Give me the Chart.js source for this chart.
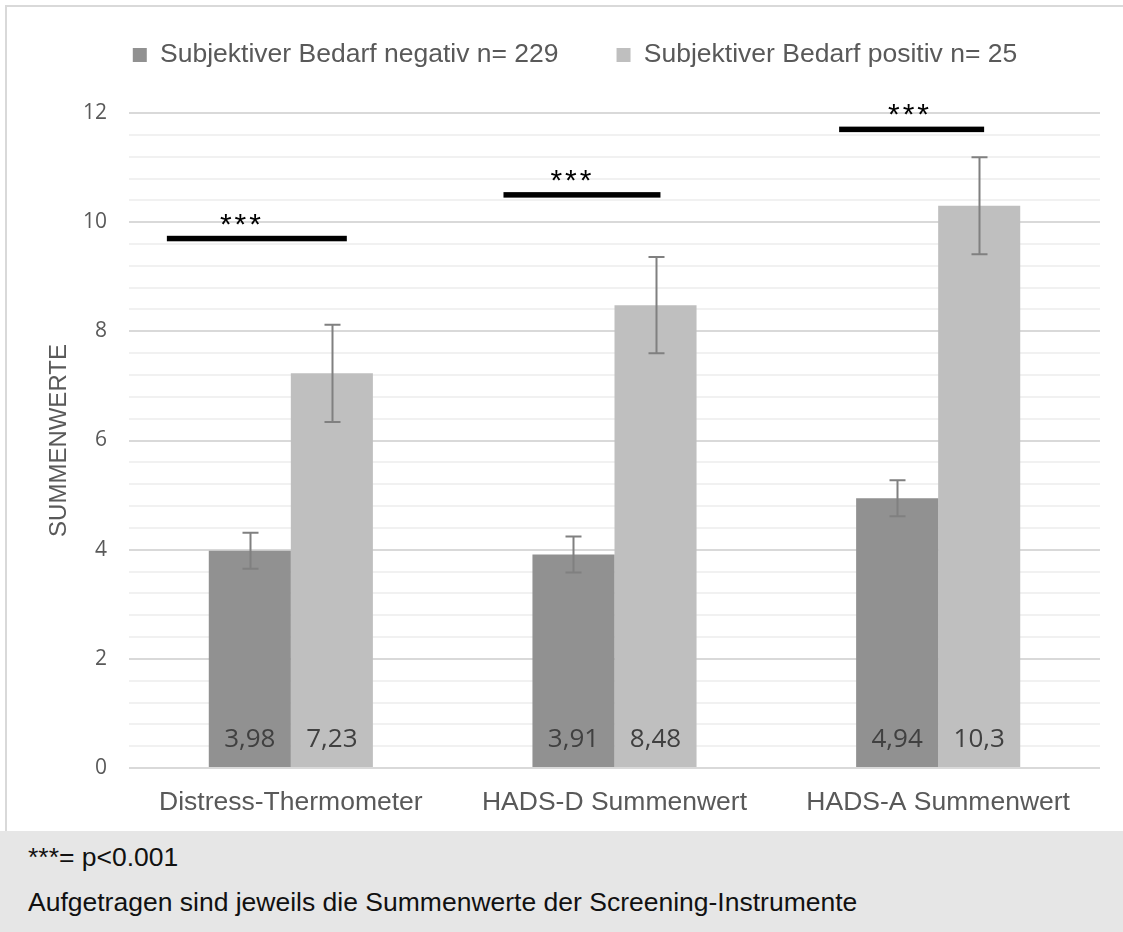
<!DOCTYPE html>
<html>
<head>
<meta charset="utf-8">
<script src="https://cdn.jsdelivr.net/npm/chart.js@4.4.1/dist/chart.umd.min.js"></script>
<style>
  html, body { margin: 0; padding: 0; background: #fff; width: 1123px; height: 932px; overflow: hidden; position: relative; }
  #chart { position: absolute; left: 0; top: -40px; }
  #frame { position: absolute; left: 5px; top: 5px; width: 1200px; height: 830px; border: 2px solid #d9d9d9; pointer-events: none; }
  #note { position: absolute; left: 0; top: 831px; width: 1123px; height: 101px; background: #e6e6e6;
          font-family: "Liberation Sans", Arial, sans-serif; font-size: 26.5px; color: #111; }
  #note div { position: absolute; left: 28px; line-height: 30px; white-space: nowrap; }
</style>
</head>
<body>
<canvas id="chart" width="1123" height="871"></canvas>
<div id="frame"></div>
<div id="note">
  <div style="top:11px">***= p&lt;0.001</div>
  <div style="top:56px">Aufgetragen sind jeweils die Summenwerte der Screening-Instrumente</div>
</div>
<script>
// Screening instruments and group means
const categories = ['Distress-Thermometer', 'HADS-D Summenwert', 'HADS-A Summenwert'];
const seriesNames = ['Subjektiver Bedarf negativ n= 229', 'Subjektiver Bedarf positiv n= 25'];
const negativValues = [3.98, 3.91, 4.94];
const positivValues = [7.23, 8.48, 10.3];
// error bar half-lengths
const negativErrors = [0.33, 0.33, 0.33];
const positivErrors = [0.89, 0.88, 0.89];
// significance brackets: level on the y axis and star label
const significanceLevels = [9.7, 10.5, 11.7];
const significanceLabels = ['***', '***', '***'];
// y axis
const yMin = 0, yMax = 12, yMinorStep = 0.4, yMajorStep = 2;

const isMajor = v => Math.abs(v / yMajorStep - Math.round(v / yMajorStep)) < 1e-6;
const decimalComma = v => String(v).replace('.', ',');

Chart.defaults.font.family = '"Liberation Sans", Arial, sans-serif';
Chart.defaults.color = '#595959';

// fixed legend band height so the plot top sits where wanted
const legendHeightPlugin = {
  id: 'legendHeight',
  beforeLayout(chart, args, opts) {
    const lg = chart.legend;
    if (lg && !lg._fixedFit) {
      const fit = lg.fit;
      lg.fit = function () { fit.call(this); this.height = opts.height; };
      lg._fixedFit = true;
    }
  }
};

// vertical error bars with caps
const errorBarPlugin = {
  id: 'errorBars',
  afterDatasetsDraw(chart, args, opts) {
    const { ctx } = chart;
    const y = chart.scales.y;
    ctx.save();
    ctx.strokeStyle = opts.color;
    ctx.lineWidth = opts.width;
    chart.data.datasets.forEach((ds, di) => {
      chart.getDatasetMeta(di).data.forEach((bar, i) => {
        const v = ds.data[i], e = ds.errors[i];
        const x = Math.round(bar.x) + 0.5;
        const yt = y.getPixelForValue(v + e), yb = y.getPixelForValue(v - e);
        const c = opts.cap / 2;
        ctx.beginPath();
        ctx.moveTo(x, yt); ctx.lineTo(x, yb);
        ctx.moveTo(x - c, yt); ctx.lineTo(x + c, yt);
        ctx.moveTo(x - c, yb); ctx.lineTo(x + c, yb);
        ctx.stroke();
      });
    });
    ctx.restore();
  }
};

// value labels at the foot of each bar
const valueLabelPlugin = {
  id: 'valueLabels',
  afterDatasetsDraw(chart, args, opts) {
    const { ctx } = chart;
    const base = chart.scales.y.getPixelForValue(0);
    ctx.save();
    ctx.font = opts.font;
    ctx.fillStyle = opts.color;
    ctx.textAlign = 'center';
    ctx.textBaseline = 'middle';
    chart.data.datasets.forEach((ds, di) => {
      chart.getDatasetMeta(di).data.forEach((bar, i) => {
        ctx.fillText(decimalComma(ds.data[i]), bar.x, base - opts.offset);
      });
    });
    ctx.restore();
  }
};

// significance bars with stars above
const significancePlugin = {
  id: 'significance',
  afterDatasetsDraw(chart, args, opts) {
    const { ctx } = chart;
    const x = chart.scales.x, y = chart.scales.y;
    ctx.save();
    significanceLevels.forEach((level, i) => {
      const span = opts.spans[i];
      const yy = y.getPixelForValue(level);
      const x0 = x.getPixelForValue(i + span.from), x1 = x.getPixelForValue(i + span.to);
      ctx.fillStyle = opts.color;
      ctx.fillRect(x0, yy - opts.thickness / 2, x1 - x0, opts.thickness);
      ctx.font = opts.font;
      ctx.letterSpacing = opts.letterSpacing;
      ctx.textAlign = 'center';
      ctx.textBaseline = 'alphabetic';
      ctx.fillText(significanceLabels[i], x.getPixelForValue(i + span.label), yy - opts.labelLift);
    });
    ctx.restore();
  }
};

new Chart(document.getElementById('chart'), {
  type: 'bar',
  data: {
    labels: categories,
    datasets: [
      { label: seriesNames[0], data: negativValues, errors: negativErrors, backgroundColor: '#919191', borderWidth: 0 },
      { label: seriesNames[1], data: positivValues, errors: positivErrors, backgroundColor: '#bfbfbf', borderWidth: 0 }
    ]
  },
  options: {
    responsive: false,
    animation: false,
    devicePixelRatio: 1,
    layout: { padding: { left: 50, right: 23, top: 23.75, bottom: 0 } },
    datasets: { bar: { categoryPercentage: 0.507, barPercentage: 1.0 } },
    scales: {
      x: {
        grid: { display: false },
        border: { display: false },
        ticks: { font: { size: 26.5 }, color: '#595959', padding: 11, maxRotation: 0 },
        afterFit: s => { s.height = 63; }
      },
      y: {
        min: yMin, max: yMax,
        border: { display: false },
        grid: {
          drawTicks: false,
          lineWidth: 2,
          color: c => (c.tick && isMajor(c.tick.value)) ? '#d9d9d9' : '#f1f1f1'
        },
        ticks: {
          stepSize: yMinorStep,
          autoSkip: false,
          padding: 22,
          font: { family: '"Open Sans", sans-serif', size: 21 },
          color: '#595959',
          callback: v => isMajor(v) ? String(Math.round(v)) : ''
        },
        title: {
          display: true,
          text: 'SUMMENWERTE',
          color: '#595959',
          font: { size: 24, lineHeight: 0.75 },
          padding: 0
        },
        afterFit: s => { s.width = 79; }
      }
    },
    plugins: {
      legend: {
        position: 'top',
        labels: { boxWidth: 14, boxHeight: 14, padding: 58, font: { size: 26.5 }, color: '#595959' }
      },
      tooltip: { enabled: false },
      legendHeight: { height: 129.25 },
      errorBars: { color: '#808080', width: 2, cap: 16 },
      valueLabels: { font: '26px "Open Sans", sans-serif', color: '#404040', offset: 28 },
      significance: {
        color: '#000',
        thickness: 5.5,
        font: '30px "Liberation Sans", Arial, sans-serif',
        letterSpacing: '3px',
        labelLift: 5,
        spans: [
          { from: -0.383, to: 0.173, label: -0.151 },
          { from: -0.343, to: 0.142, label: -0.130 },
          { from: -0.306, to: 0.142, label: -0.087 }
        ]
      }
    }
  },
  plugins: [legendHeightPlugin, errorBarPlugin, valueLabelPlugin, significancePlugin]
});
</script>
</body>
</html>
